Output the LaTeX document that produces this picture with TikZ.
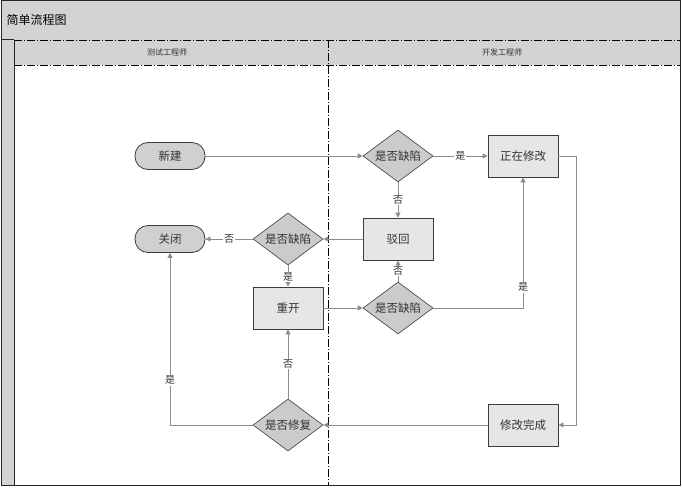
\documentclass[tikz,border=0pt]{standalone}
\usepackage{fontspec}
\newfontfamily\cjk{Noto Sans CJK SC}
\usetikzlibrary{shapes.geometric,arrows.meta}
\definecolor{lanegray}{HTML}{D3D3D3}
\definecolor{diafill}{HTML}{CBCBCB}
\definecolor{boxfill}{HTML}{E6E6E6}
\definecolor{pillfill}{HTML}{D0D0D0}
\definecolor{edgegray}{HTML}{3C3C3C}
\definecolor{linkgray}{HTML}{8C8C8C}
\tikzset{
  every node/.style={font=\cjk\fontsize{11.5}{13}\selectfont, text=black!80},
  pill/.style={draw=edgegray, fill=pillfill, rounded corners=13pt, minimum width=70pt, minimum height=27pt, inner sep=0pt, line width=0.8pt},
  procbox/.style={draw=edgegray, fill=boxfill, minimum width=70pt, minimum height=42pt, inner sep=0pt, line width=0.8pt},
  decide/.style={draw=edgegray, fill=diafill, diamond, aspect=1.35, minimum width=70pt, minimum height=52pt, inner sep=0pt, line width=0.6pt},
  link/.style={draw=linkgray, line width=0.8pt, -{Triangle[length=5pt,width=5pt]}},
  lbl/.style={fill=white, inner sep=1pt, font=\cjk\fontsize{10}{11}\selectfont},
  frame/.style={draw=black!85, line width=1pt},
  dashdiv/.style={draw=black, line width=0.8pt, dash pattern=on 8pt off 2pt on 1pt off 2pt},
}
\begin{document}
\begin{tikzpicture}[x=1pt,y=-1pt]
\useasboundingbox (0,0) rectangle (682,487);
% title bar
\fill[lanegray] (1,1) rectangle (680,40);
\node[anchor=west, font=\cjk\fontsize{12}{14}\selectfont, text=black] (title) at (3,20) {简单流程图};
% lane header
\fill[lanegray] (14,40) rectangle (680,65);
% left strip
\fill[lanegray] (1,40) rectangle (14,485);
\draw[frame] (14,40) -- (14,485);
\draw[frame] (1,40) -- (14,40);
% header dashed lines
\draw[dashdiv] (14,40) -- (680,40);
\draw[dashdiv] (14,65) -- (680,65);
\draw[dashdiv] (328,40) -- (328,485);
\node[font=\cjk\fontsize{8}{10}\selectfont] (laneA) at (167,52) {测试工程师};
\node[font=\cjk\fontsize{8}{10}\selectfont] (laneB) at (502,52) {开发工程师};
% outer frame
\draw[frame] (1,1) rectangle (680,485);

% nodes
\node[pill] (new) at (170,156) {新建};
\node[pill] (close) at (170,239) {关闭};
\node[decide] (d1) at (398,156) {是否缺陷};
\node[procbox] (fixing) at (523,156) {正在修改};
\node[procbox] (reject) at (398,239) {驳回};
\node[decide] (d2) at (288,239) {是否缺陷};
\node[procbox] (reopen) at (288,308) {重开};
\node[decide] (d3) at (398,308) {是否缺陷};
\node[decide] (d4) at (288,425) {是否修复};
\node[procbox] (done) at (523,425) {修改完成};

\coordinate (c1) at (576,156);
\coordinate (c2) at (576,425);
\coordinate (c3) at (523,308);
\coordinate (c4) at (170,425);

% connectors
\draw[link] (new) -- (d1);
\draw[link] (d1) -- node[lbl] {是} (fixing);
\draw[link] (d1) -- node[lbl] {否} (reject);
\draw[link] (reject) -- (d2);
\draw[link] (d2) -- node[lbl] {否} (close);
\draw[link] (d2) -- node[lbl, pos=0.55] {是} (reopen);
\draw[link] (reopen) -- (d3);
\draw[link] (d3) -- node[lbl] {否} (reject);
\draw[link] (d3.east) -- (c3) -- node[lbl, pos=0.16] {是} (fixing.south);
\draw[link] (fixing.east) -- (c1) -- (c2) -- (done.east);
\draw[link] (done) -- (d4);
\draw[link] (d4) -- node[lbl, pos=0.5] {否} (reopen);
\draw[link] (d4.west) -- (c4) -- node[lbl, pos=0.26] {是} (close.south);
\end{tikzpicture}
\end{document}
